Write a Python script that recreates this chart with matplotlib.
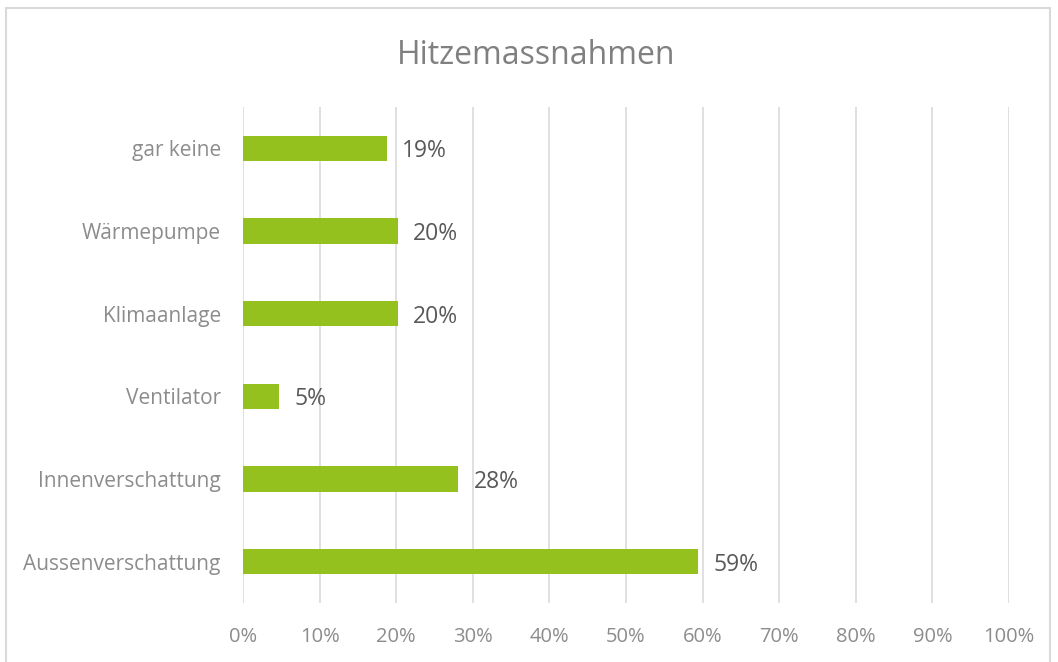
import matplotlib.pyplot as plt
from matplotlib.patches import Rectangle

# data (bottom to top)
categories = ["Aussenverschattung", "Innenverschattung", "Ventilator",
              "Klimaanlage", "Wärmepumpe", "gar keine"]
values = [59.4, 28.1, 4.7, 20.2, 20.2, 18.8]
xticks = [0, 10, 20, 30, 40, 50, 60, 70, 80, 90, 100]

plt.rcParams["font.family"] = ["Open Sans", "DejaVu Sans"]

fig = plt.figure(figsize=(10.58, 6.62), dpi=100)
ax = fig.add_axes([243 / 1058, 1 - 603 / 662, (1009 - 243) / 1058, (603 - 107) / 662])

# chart border
fig.patches.append(Rectangle((6 / 1058, -0.01), (1050 - 6) / 1058, 1 - 8 / 662 + 0.01,
                             transform=fig.transFigure, fill=False,
                             edgecolor="#D9D9D9", linewidth=1.5))

ypos = range(len(categories))
ax.barh(ypos, values, height=0.31, color="#95C11F", zorder=3)

for y, v in zip(ypos, values):
    ax.text(v + 2.0, y, f"{v:.0f}%", va="center_baseline", ha="left",
            fontsize=16.5, color="#595959")

ax.set_xlim(0, 100)
ax.set_ylim(-0.5, len(categories) - 0.5)
ax.set_xticks(xticks)
ax.set_xticklabels([f"{t}%" for t in xticks])
ax.set_yticks(list(ypos))
ax.set_yticklabels(categories)
ax.tick_params(axis="both", length=0, labelcolor="#8C8C8C")
ax.tick_params(axis="x", labelsize=14.5, pad=17)
ax.tick_params(axis="y", labelsize=15, pad=16)
ax.grid(axis="x", color="#E0E0E0", linewidth=1.4, zorder=0)
for s in ax.spines.values():
    s.set_visible(False)

fig.text(536 / 1058, 1 - 55 / 662, "Hitzemassnahmen", ha="center", va="center",
         fontsize=23, color="#808080")

fig.savefig("out.png", dpi=100)
